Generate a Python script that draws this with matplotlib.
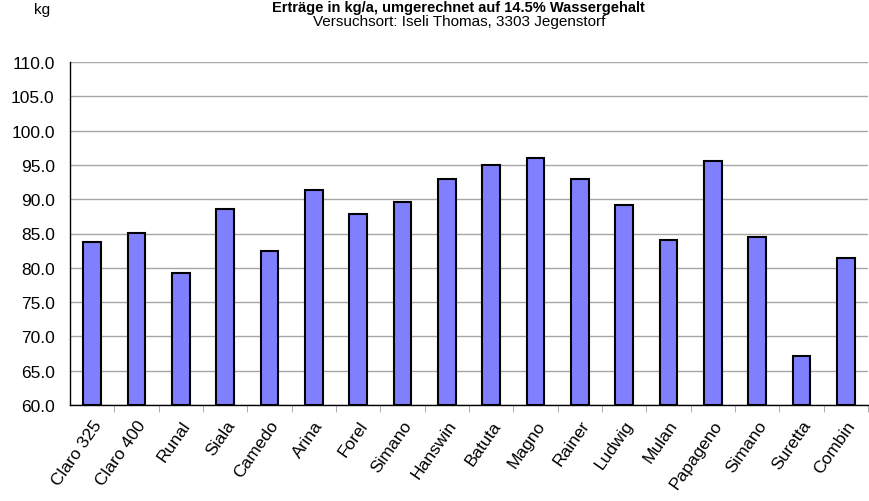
import numpy as np
import matplotlib.pyplot as plt

plt.rcParams['font.family'] = ['Liberation Sans', 'DejaVu Sans']

sorten = ['Claro 325', 'Claro 400', 'Runal', 'Siala', 'Camedo', 'Arina',
          'Forel', 'Simano', 'Hanswin', 'Batuta', 'Magno', 'Rainer',
          'Ludwig', 'Mulan', 'Papageno', 'Simano', 'Suretta', 'Combin']
ertrag = [83.8, 85.0, 79.2, 88.5, 82.4, 91.3, 87.8, 89.6, 92.9,
          95.0, 96.0, 92.9, 89.1, 84.0, 95.5, 84.5, 67.1, 81.5]
y_ticks = [60, 65, 70, 75, 80, 85, 90, 95, 100, 105, 110]

fig = plt.figure(figsize=(8.69, 5.02), dpi=100)
ax = fig.add_axes([70 / 869, 1 - 406 / 502, 798 / 869, 343 / 502])

x = np.arange(len(sorten))
ax.bar(x, np.array(ertrag) - 60, bottom=60, width=0.4, color='#8080ff',
       edgecolor='black', linewidth=1.5, zorder=3)

ax.set_xlim(-0.5, len(sorten) - 0.5)
ax.set_ylim(60, 110)
ax.set_yticks(y_ticks)
ax.set_yticklabels(['%.1f' % v for v in y_ticks], fontsize=12.5)
ax.yaxis.grid(True, color='#a6a6a6', linewidth=1, zorder=0)
ax.tick_params(axis='y', length=0, pad=11)

# ticks between categories
ax.set_xticks(x + 0.5, minor=True)
ax.set_xticks(x)
ax.set_xticklabels(sorten, rotation=55, ha='right', rotation_mode='anchor',
                   fontsize=12.5)
ax.tick_params(axis='x', which='major', length=0, pad=9)
ax.tick_params(axis='x', which='minor', length=5, color='#a0a0a0',
               direction='out')

for s in ['top', 'right']:
    ax.spines[s].set_visible(False)
ax.spines['left'].set_linewidth(1)
ax.spines['bottom'].set_linewidth(1)

fig.text(0.528, 1 - 1 / 502, 'Erträge in kg/a, umgerechnet auf 14.5% Wassergehalt',
         ha='center', va='top', fontsize=10.5, fontweight='bold')
fig.text(0.528, 1 - 22 / 502, 'Versuchsort: Iseli Thomas, 3303 Jegenstorf',
         ha='center', va='center', fontsize=11)
fig.text(34 / 869, 1 - 10 / 502, 'kg', ha='left', va='center', fontsize=11)

fig.savefig('out.png', dpi=100)
